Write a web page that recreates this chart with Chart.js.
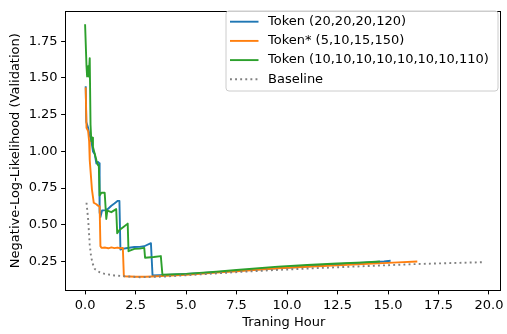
<!DOCTYPE html>
<html>
<head>
<meta charset="utf-8">
<script src="https://cdn.jsdelivr.net/npm/chart.js@4.4.1/dist/chart.umd.min.js"></script>
<style>
html,body{margin:0;padding:0;background:#fff;}
#c{display:block;}
</style>
</head>
<body>
<canvas id="c" width="507" height="334"></canvas>
<script>
// ---- data ----
const labels = ["Token (20,20,20,120)", "Token* (5,10,15,150)", "Token (10,10,10,10,10,10,10,110)", "Baseline"];

const blueX = [0.03, 0.06, 0.15, 0.20, 0.30, 0.39, 0.48, 0.56, 0.64, 0.70, 0.72, 0.76, 0.84, 1.00, 1.13, 1.30, 1.45, 1.62, 1.70, 1.75, 1.85, 2.10, 2.44, 2.70, 2.93, 3.26, 3.34, 4.0, 5.0, 6.5, 7.5, 9.0, 10.5, 12.0, 12.7, 13.8, 14.8, 15.13];
const blueY = [1.443, 1.20, 1.16, 1.12, 1.08, 1.00, 0.98, 0.917, 0.928, 0.92, 0.585, 0.553, 0.597, 0.60, 0.608, 0.63, 0.645, 0.663, 0.663, 0.332, 0.336, 0.342, 0.349, 0.350, 0.354, 0.375, 0.155, 0.158, 0.165, 0.178, 0.188, 0.200, 0.213, 0.226, 0.233, 0.242, 0.250, 0.255];

const orangeX = [0.03, 0.07, 0.15, 0.20, 0.23, 0.28, 0.34, 0.43, 0.56, 0.64, 0.72, 0.76, 0.81, 1.00, 1.15, 1.30, 1.45, 1.60, 1.75, 1.87, 1.92, 2.5, 3.0, 4.0, 5.0, 6.5, 7.5, 9.56, 11.0, 12.5, 14.0, 15.5, 16.45];
const orangeY = [1.436, 1.16, 1.138, 1.07, 0.94, 0.85, 0.74, 0.65, 0.64, 0.63, 0.625, 0.354, 0.343, 0.345, 0.34, 0.346, 0.341, 0.345, 0.34, 0.343, 0.150, 0.146, 0.146, 0.152, 0.160, 0.174, 0.184, 0.204, 0.214, 0.224, 0.234, 0.244, 0.250];

const greenX = [0.00, 0.07, 0.10, 0.15, 0.18, 0.23, 0.27, 0.31, 0.36, 0.39, 0.48, 0.56, 0.64, 0.68, 0.72, 0.81, 0.97, 1.05, 1.10, 1.30, 1.54, 1.59, 1.70, 1.90, 2.11, 2.15, 2.44, 2.70, 2.93, 2.97, 3.40, 3.75, 3.83, 5.0, 6.5, 7.5, 9.56, 11.0, 12.5, 13.8, 14.6];
const greenY = [1.866, 1.58, 1.51, 1.58, 1.51, 1.635, 1.18, 1.07, 1.094, 1.03, 0.983, 0.94, 0.906, 0.90, 0.70, 0.718, 0.718, 0.54, 0.597, 0.586, 0.607, 0.442, 0.464, 0.485, 0.508, 0.32, 0.336, 0.338, 0.343, 0.276, 0.281, 0.287, 0.160, 0.166, 0.180, 0.192, 0.215, 0.226, 0.236, 0.244, 0.250];

const baseX = [0.07, 0.15, 0.23, 0.30, 0.39, 0.48, 0.72, 0.97, 1.45, 1.94, 2.7, 4.0, 6.0, 8.0, 9.56, 11.0, 12.5, 14.5, 16.45, 18.0, 19.65];
const baseY = [0.65, 0.54, 0.365, 0.28, 0.23, 0.199, 0.177, 0.166, 0.155, 0.150, 0.143, 0.148, 0.165, 0.182, 0.193, 0.202, 0.211, 0.222, 0.233, 0.239, 0.245];

const xTicks = [0.0, 2.5, 5.0, 7.5, 10.0, 12.5, 15.0, 17.5, 20.0];
const yTicks = [0.25, 0.50, 0.75, 1.00, 1.25, 1.50, 1.75];

const colors = ["#1f77b4", "#ff7f0e", "#2ca02c", "#808080"];

// ---- chart ----
const FONT = "'DejaVu Sans', sans-serif";
const FS = 13;
const toPts = (xs, ys) => xs.map((x, i) => ({x: x, y: ys[i]}));

function ds(i, xs, ys, order, dash) {
  return {
    label: labels[i],
    data: toPts(xs, ys),
    borderColor: colors[i],
    backgroundColor: colors[i],
    borderWidth: 1.9,
    borderDash: dash || [],
    borderCapStyle: 'butt',
    borderJoinStyle: 'round',
    pointRadius: 0,
    pointHoverRadius: 0,
    tension: 0,
    fill: false,
    order: order
  };
}

const frame = {
  id: 'frame',
  afterDraw(chart) {
    const {ctx, chartArea: a} = chart;
    ctx.save();
    ctx.strokeStyle = '#000';
    ctx.lineWidth = 1;
    ctx.setLineDash([]);
    const L = Math.floor(a.left) + 0.5, R = Math.floor(a.right) - 0.5;
    const T = Math.floor(a.top) + 0.5, B = Math.floor(a.bottom) + 0.5;
    ctx.strokeRect(L, T, R - L, B - T);

    // legend
    const bx = 226, by = 11, bw = 272, bh = 80, r = 3;
    ctx.beginPath();
    ctx.moveTo(bx + r, by);
    ctx.lineTo(bx + bw - r, by);
    ctx.arcTo(bx + bw, by, bx + bw, by + r, r);
    ctx.lineTo(bx + bw, by + bh - r);
    ctx.arcTo(bx + bw, by + bh, bx + bw - r, by + bh, r);
    ctx.lineTo(bx + r, by + bh);
    ctx.arcTo(bx, by + bh, bx, by + bh - r, r);
    ctx.lineTo(bx, by + r);
    ctx.arcTo(bx, by, bx + r, by, r);
    ctx.closePath();
    ctx.fillStyle = 'rgba(255,255,255,0.8)';
    ctx.fill();
    ctx.strokeStyle = '#cccccc';
    ctx.lineWidth = 1;
    ctx.stroke();

    const rows = [21.7, 40.9, 60.1, 79.3];
    chart.data.datasets.forEach((d, i) => {
      const y = rows[i];
      ctx.beginPath();
      ctx.strokeStyle = d.borderColor;
      ctx.lineWidth = d.borderWidth;
      ctx.setLineDash(d.borderDash || []);
      ctx.lineCap = 'butt';
      ctx.moveTo(230, y);
      ctx.lineTo(258.5, y);
      ctx.stroke();
      ctx.setLineDash([]);
      ctx.fillStyle = '#000';
      ctx.font = FS + "px " + FONT;
      ctx.textBaseline = 'middle';
      ctx.textAlign = 'left';
      ctx.fillText(d.label, 268, y);
    });
    ctx.restore();
  }
};

new Chart(document.getElementById('c'), {
  type: 'line',
  data: {
    datasets: [
      ds(0, blueX, blueY, 4),
      ds(1, orangeX, orangeY, 3),
      ds(2, greenX, greenY, 2),
      ds(3, baseX, baseY, 1, [1.9, 3.2])
    ]
  },
  options: {
    responsive: false,
    animation: false,
    devicePixelRatio: 1,
    layout: {padding: {top: 3.5, right: 1.5, left: 0, bottom: 0}},
    plugins: {legend: {display: false}, tooltip: {enabled: false}},
    events: [],
    scales: {
      x: {
        type: 'linear',
        min: -0.97,
        max: 20.64,
        afterFit(s) { s.height = 44; },
        afterBuildTicks(s) { s.ticks = xTicks.map(v => ({value: v})); },
        grid: {drawOnChartArea: false, drawTicks: true, tickLength: 4.4, color: '#000', lineWidth: 1},
        border: {display: false},
        ticks: {
          color: '#000', padding: 3.5, maxRotation: 0, autoSkip: false,
          font: {family: FONT, size: FS},
          callback: v => Number(v).toFixed(1)
        },
        title: {display: true, text: 'Traning Hour', color: '#000', font: {family: FONT, size: FS}, padding: {top: 0, bottom: 4}}
      },
      y: {
        type: 'linear',
        min: 0.056,
        max: 1.954,
        afterFit(s) { s.width = 65.5; },
        afterBuildTicks(s) { s.ticks = yTicks.map(v => ({value: v})); },
        grid: {drawOnChartArea: false, drawTicks: true, tickLength: 4.4, color: '#000', lineWidth: 1},
        border: {display: false},
        ticks: {
          color: '#000', padding: 3.5, autoSkip: false,
          font: {family: FONT, size: FS},
          callback: v => Number(v).toFixed(2)
        },
        title: {display: true, text: 'Negative-Log-Likelihood (Validation)', color: '#000', font: {family: FONT, size: FS}, padding: {top: 8.2, bottom: 0}}
      }
    }
  },
  plugins: [frame]
});
</script>
</body>
</html>
